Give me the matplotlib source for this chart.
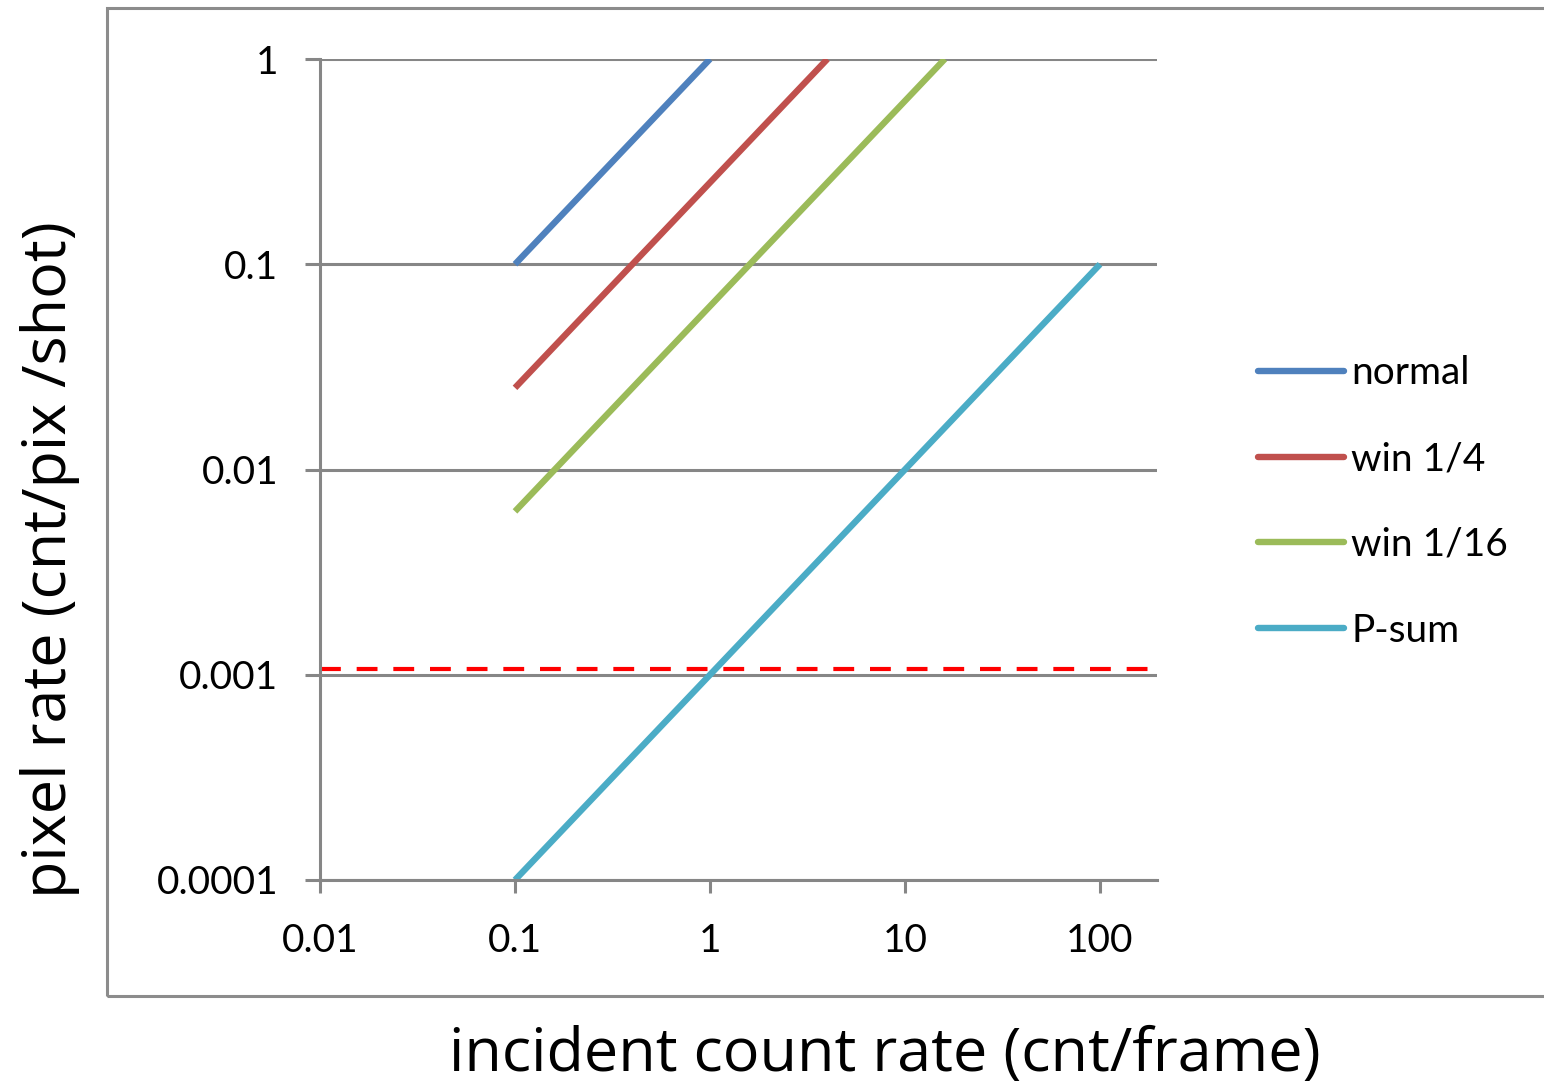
import matplotlib
matplotlib.use("Agg")
import matplotlib.pyplot as plt
from matplotlib.patches import Rectangle

# ---- Data ----
series_names = ["normal", "win 1/4", "win 1/16", "P-sum"]
normal_x = [0.1, 1.0]
normal_y = [0.1, 1.0]
win4_x = [0.1, 4.0]
win4_y = [0.025, 1.0]
win16_x = [0.1, 16.0]
win16_y = [0.00625, 1.0]
psum_x = [0.1, 100.0]
psum_y = [0.0001, 0.1]
threshold_y = 0.00107

x_ticks = [0.01, 0.1, 1, 10, 100]
x_tick_labels = ["0.01", "0.1", "1", "10", "100"]
y_ticks = [0.0001, 0.001, 0.01, 0.1, 1]
y_tick_labels = ["0.0001", "0.001", "0.01", "0.1", "1"]

colors = ["#4F81BD", "#C0504D", "#9BBB59", "#4BACC6"]
GRID = "#868686"
TICK_FONT = "Lato"
LABEL_FONT = "Open Sans"

W, H = 1544, 1089
fig = plt.figure(figsize=(W / 100, H / 100), dpi=100)

# chart border
fig.patches.append(Rectangle((107 / W, 1 - 996 / H), 1.0, (996 - 8) / H,
                             transform=fig.transFigure, fill=False,
                             edgecolor="#8c8c8c", linewidth=2.2))

ax = fig.add_axes([320 / W, 1 - 880 / H, (1157 - 320) / W, (880 - 59) / H])
ax.set_xscale("log")
ax.set_yscale("log")
ax.set_xlim(0.01, 196)
ax.set_ylim(0.0001, 1)

for spine in ["top", "right"]:
    ax.spines[spine].set_visible(False)
for spine in ["left", "bottom"]:
    ax.spines[spine].set_color(GRID)
    ax.spines[spine].set_linewidth(2.2)

ax.set_xticks(x_ticks)
ax.set_xticklabels(x_tick_labels, fontfamily=TICK_FONT, fontsize=28)
ax.set_yticks(y_ticks)
ax.set_yticklabels(y_tick_labels, fontfamily=TICK_FONT, fontsize=28)
ax.minorticks_off()
ax.tick_params(axis="x", length=9, width=2.2, color=GRID, pad=22)
ax.tick_params(axis="y", length=11, width=2.2, color=GRID, pad=19)
ax.yaxis.grid(True, color=GRID, linewidth=2.2)
ax.set_axisbelow(True)

for xs, ys, c, name in zip([normal_x, win4_x, win16_x, psum_x],
                           [normal_y, win4_y, win16_y, psum_y],
                           colors, series_names):
    ax.plot(xs, ys, color=c, linewidth=4.6, solid_capstyle="butt", label=name)

ax.plot([0.01, 196], [threshold_y, threshold_y], color="#FF0000",
        linewidth=3, linestyle=(0, (5, 3.8)), clip_on=False)

leg = ax.legend(loc="center left", bbox_to_anchor=(1258 / W, 1 - 502 / H),
                bbox_transform=fig.transFigure, frameon=False,
                prop={"family": TICK_FONT, "size": 28},
                handlelength=2.2, handletextpad=0.2, labelspacing=1.28,
                borderpad=0, borderaxespad=0)
for line in leg.get_lines():
    line.set_solid_capstyle("round")

fig.text(885 / W, 1 - 1055 / H, "incident count rate (cnt/frame)",
         ha="center", va="center", fontfamily=LABEL_FONT, fontsize=44)
fig.text(50 / W, 1 - 560 / H, "pixel rate (cnt/pix /shot)",
         ha="center", va="center", rotation=90,
         fontfamily=LABEL_FONT, fontsize=44)

fig.savefig("out.png", dpi=100)
